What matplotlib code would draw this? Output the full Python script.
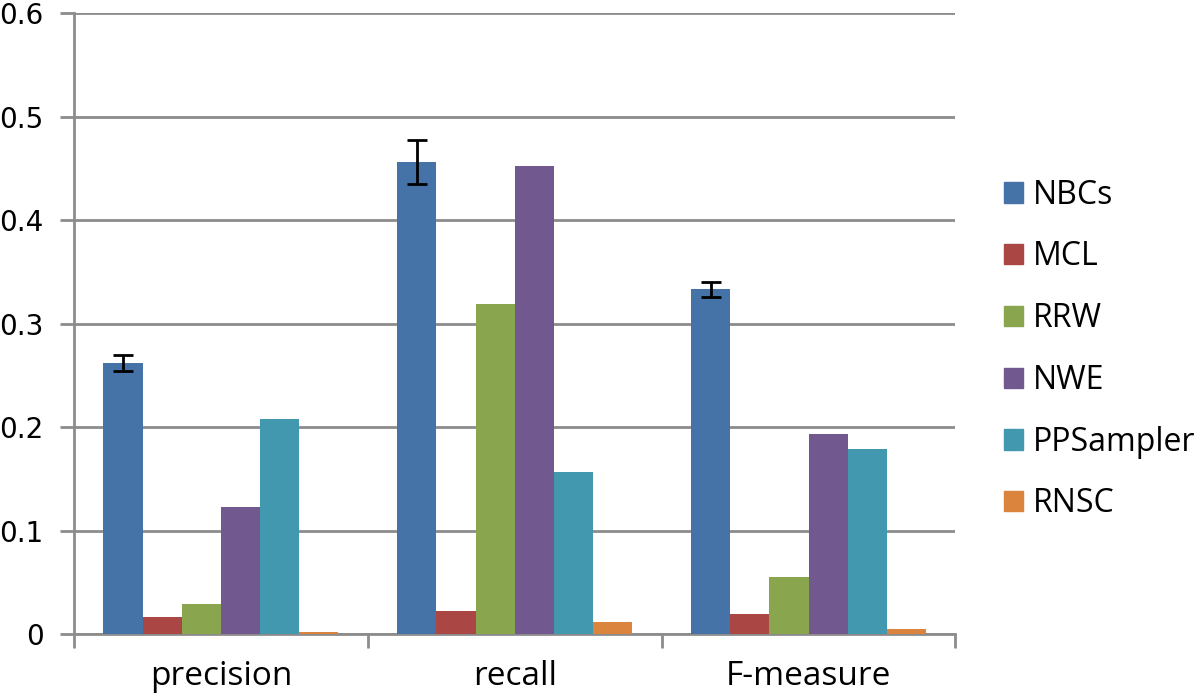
import numpy as np
from matplotlib import pyplot as plt
from matplotlib.patches import Patch

plt.rcParams['font.family'] = ['Open Sans', 'DejaVu Sans']

categories = ['precision', 'recall', 'F-measure']
methods = ['NBCs', 'MCL', 'RRW', 'NWE', 'PPSampler', 'RNSC']
nbcs = [0.262, 0.456, 0.333]
nbcs_err = [0.008, 0.021, 0.007]
mcl = [0.0165, 0.022, 0.019]
rrw = [0.029, 0.319, 0.055]
nwe = [0.123, 0.452, 0.193]
ppsampler = [0.208, 0.157, 0.179]
rnsc = [0.002, 0.0115, 0.005]

series = [nbcs, mcl, rrw, nwe, ppsampler, rnsc]
colors = ['#4572A7', '#AA4643', '#89A54E', '#71588F', '#4198AF', '#DB843D']

fig = plt.figure(figsize=(12, 6.97), dpi=100)
ax = fig.add_axes([0.0617, 0.0904, 0.7345, 0.8906])

x = np.arange(len(categories))
width = 1 / 7.5
for i, vals in enumerate(series):
    pos = x - 3 * width + (i + 0.5) * width
    ax.bar(pos, vals, width, color=colors[i], zorder=3)
    if i == 0:
        ax.errorbar(pos, vals, yerr=nbcs_err, fmt='none', ecolor='black',
                    elinewidth=2, capsize=7, capthick=2, zorder=4)

ax.set_xlim(-0.5, 2.5)
ax.set_ylim(0, 0.6)
ax.set_yticks(np.arange(0, 0.61, 0.1))
ax.set_yticklabels(['0', '0.1', '0.2', '0.3', '0.4', '0.5', '0.6'],
                   family='DejaVu Sans', fontsize=20)
ax.yaxis.grid(True, color='#8C8C8C', linewidth=2, zorder=0)

ax.set_xticks(x)
ax.set_xticklabels(categories, fontsize=24)
ax.tick_params(axis='x', length=0, pad=19)
ax.set_xticks([-0.5, 0.5, 1.5, 2.5], minor=True)
ax.tick_params(axis='x', which='minor', length=10, width=2, color='#8C8C8C')
ax.tick_params(axis='y', length=10, width=2, color='#8C8C8C', pad=12)

for s in ['top', 'right']:
    ax.spines[s].set_visible(False)
for s in ['left', 'bottom']:
    ax.spines[s].set_color('#8C8C8C')
    ax.spines[s].set_linewidth(2)

handles = [Patch(color=c, label=m) for c, m in zip(colors, methods)]
fig.legend(handles=handles, loc='center left', bbox_to_anchor=(0.8367, 0.4985),
           frameon=False, fontsize=23, handlelength=0.6, handleheight=0.6,
           labelspacing=0.9, handletextpad=0.3, borderpad=0, borderaxespad=0)

plt.savefig('out.png')
